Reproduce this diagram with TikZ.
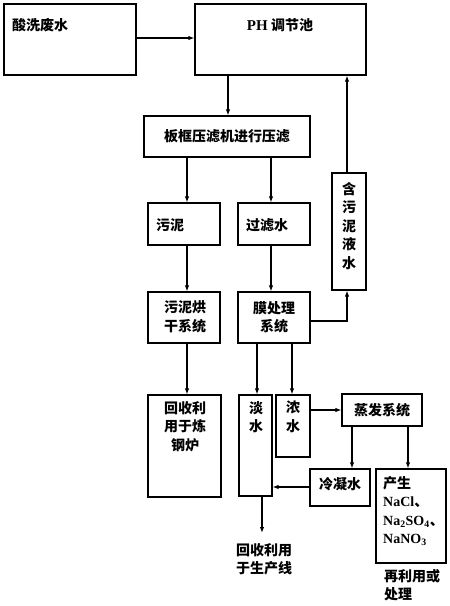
\documentclass[tikz,border=0pt]{standalone}
\usepackage{fontspec}
\setmainfont{Noto Sans CJK SC}
\newfontfamily\lat{Liberation Serif}
\usetikzlibrary{fit,arrows.meta}
\begin{document}
\begin{tikzpicture}[x=1pt,y=-1pt,
  box/.style={draw,line width=1.3pt,inner sep=0pt,fit={#1}},
  txt/.style={font=\fontsize{14}{18.5}\selectfont\bfseries,inner sep=0pt,align=center},
  txl/.style={font=\fontsize{14}{18.5}\selectfont\bfseries,inner sep=0pt,align=left},
  arr/.style={line width=1.1pt,-{Latex[length=6pt,width=4.5pt]}}]
\useasboundingbox (0,0) rectangle (450,606);
% boxes
\node[box={(4,4) (136,75)}] (sx) {};
\node[box={(195,4) (366,75)}] (ph) {};
\node[box={(144,116) (310,157)}] (bk) {};
\node[box={(332,173) (366,290)}] (hw) {};
\node[box={(148,203) (220,245)}] (wn) {};
\node[box={(238,203) (310,245)}] (gl) {};
\node[box={(148,292) (220,343)}] (hg) {};
\node[box={(238,292) (310,343)}] (mo) {};
\node[box={(148,395) (221,497)}] (gg) {};
\node[box={(239,395) (272,496)}] (dan) {};
\node[box={(276,395) (310,457)}] (nong) {};
\node[box={(342,394) (422,426)}] (zf) {};
\node[box={(310,469) (370,506)}] (lnn) {};
\node[box={(376,469) (446,563)}] (cs) {};
% texts
\node[txt,anchor=west] (tsx) at (12,25) {酸洗废水};
\node[txt] (tph) at (280,25) {{\lat\bfseries\fontsize{15}{18}\selectfont PH} 调节池};
\node[txt] (tbk) at (227,136) {板框压滤机进行压滤};
\node[txt] (thw) at (349,226) {含\\污\\泥\\液\\水};
\node[txt,anchor=west] (twn) at (156,225) {污泥};
\node[txt,anchor=west] (tgl) at (246,225) {过滤水};
\node[txt] (thg) at (185,317) {污泥烘\\干系统};
\node[txt] (tmo) at (274,317) {膜处理\\系统};
\node[txt,anchor=north] (tgg) at (185,401) {回收利\\用于炼\\钢炉};
\node[txt,anchor=north] (tdan) at (256,401) {淡\\水};
\node[txt,anchor=north] (tnong) at (293,401) {浓\\水};
\node[txt] (tzf) at (382,410) {蒸发系统};
\node[txt] (tln) at (340,484) {冷凝水};
\node[txl,anchor=north west] (tcs) at (383,476) {产生\\{\lat\bfseries NaCl}、\\{\lat\bfseries Na\textsubscript{2}SO\textsubscript{4}}、\\{\lat\bfseries NaNO\textsubscript{3}}};
\node[txl,anchor=north west] (t1) at (236,543) {回收利用\\于生产线};
\node[txl,anchor=north west] (t2) at (384,569) {再利用或\\处理};
% helper coordinates
\coordinate (ya) at (0,38);
\coordinate (xa) at (228,0);
\coordinate (xb) at (347,0);
\coordinate (xc) at (187,0);
\coordinate (xd) at (271,0);
\coordinate (yb) at (0,321);
\coordinate (xe) at (257,0);
\coordinate (xf) at (292,0);
\coordinate (yc) at (0,410);
\coordinate (xg) at (352,0);
\coordinate (xh) at (408,0);
\coordinate (yd) at (0,487);
\coordinate (xi) at (262,0);
\coordinate (endp) at (262,533);
% connectors
\draw[arr] (sx.east |- ya) -- (ph.west |- ya);
\draw[arr] (ph.south -| xa) -- (bk.north -| xa);
\draw[arr] (hw.north -| xb) -- (ph.south -| xb);
\draw[arr] (bk.south -| xc) -- (wn.north -| xc);
\draw[arr] (bk.south -| xd) -- (gl.north -| xd);
\draw[arr] (wn.south -| xc) -- (hg.north -| xc);
\draw[arr] (gl.south -| xd) -- (mo.north -| xd);
\draw[arr] (mo.east |- yb) -| (hw.south -| xb);
\draw[arr] (hg.south -| xc) -- (gg.north -| xc);
\draw[arr] (mo.south -| xe) -- (dan.north -| xe);
\draw[arr] (mo.south -| xf) -- (nong.north -| xf);
\draw[arr] (nong.east |- yc) -- (zf.west |- yc);
\draw[arr] (zf.south -| xg) -- (lnn.north -| xg);
\draw[arr] (zf.south -| xh) -- (cs.north -| xh);
\draw[arr] (lnn.west |- yd) -- (dan.east |- yd);
\draw[arr] (dan.south -| xi) -- (endp);
\end{tikzpicture}
\end{document}
